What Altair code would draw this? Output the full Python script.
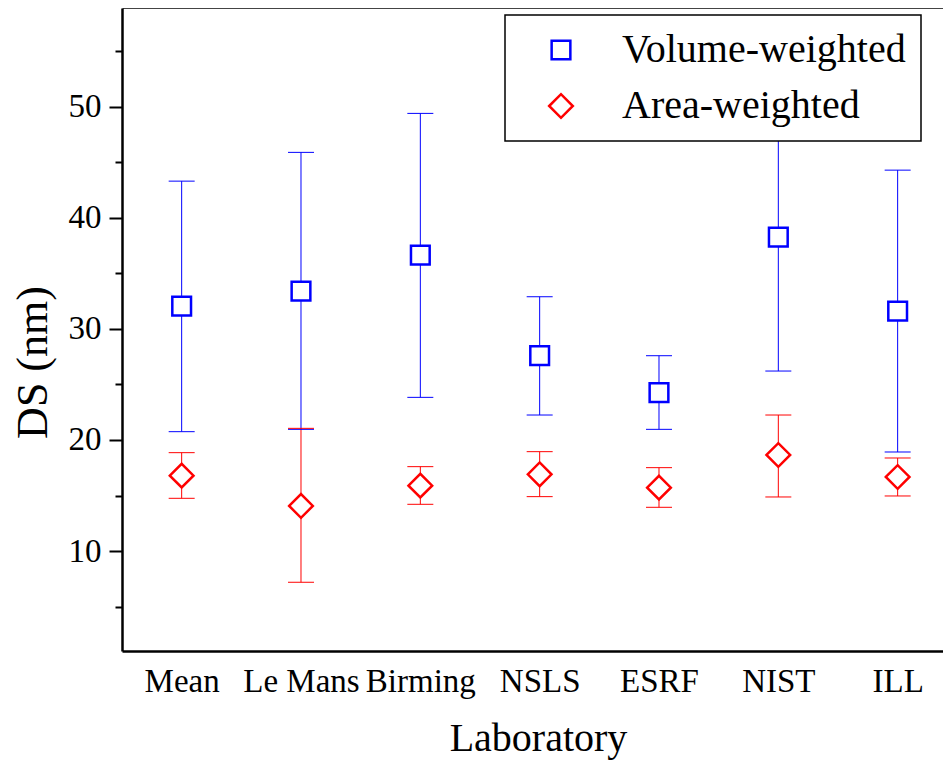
import altair as alt
import pandas as pd

labs = ["Mean", "Le Mans", "Birming", "NSLS", "ESRF", "NIST", "ILL"]
series = ["Volume-weighted", "Area-weighted"]
vol_mid = [32.06, 33.41, 36.65, 27.59, 24.26, 38.27, 31.61]
vol_lo = [20.75, 20.96, 23.84, 22.25, 20.96, 26.21, 18.92]
vol_hi = [43.31, 45.90, 49.41, 32.90, 27.59, 50.30, 44.30]
area_mid = [16.79, 14.06, 15.89, 16.91, 15.71, 18.65, 16.67]
area_lo = [14.75, 7.19, 14.21, 14.90, 13.94, 14.87, 14.96]
area_hi = [18.86, 21.05, 17.60, 18.95, 17.51, 22.25, 18.38]
y_major = [10, 20, 30, 40, 50]
y_minor = [5, 15, 25, 35, 45, 55]
COLORS = ["#0000ff", "#ff0000"]

rows = []
for k, (s, mids, los, his) in enumerate([(series[0], vol_mid, vol_lo, vol_hi),
                                         (series[1], area_mid, area_lo, area_hi)]):
    for i, lab in enumerate(labs):
        rows.append({"idx": i + 1, "lab": lab, "series": s, "hex": COLORS[k],
                     "mid": mids[i], "lo": los[i], "hi": his[i]})
df = pd.DataFrame(rows)

FONT = "Liberation Serif"
xscale = alt.Scale(domain=[0.5, 7.38], nice=False, zero=False)
yscale = alt.Scale(domain=[1.0, 58.9], nice=False, zero=False)
label_expr = "[" + ",".join("'%s'" % l for l in labs) + "][datum.value - 1]"

x_main = alt.Axis(values=list(range(1, 8)), ticks=False, labelExpr=label_expr,
                  labelFontSize=33, labelFont=FONT, labelPadding=14,
                  labelOverlap=False, labelFlush=False, labelBound=False,
                  domainWidth=2.5, domainColor="black", grid=False,
                  title="Laboratory", titleFont=FONT, titleFontSize=40,
                  titleFontWeight="normal", titleX=416, titleY=99,
                  titleBaseline="alphabetic", titleAlign="center", orient="bottom")
y_main = alt.Axis(values=y_major, tickSize=13, tickWidth=2, tickColor="black",
                  labelFontSize=33, labelFont=FONT, labelPadding=8,
                  labelOverlap=False, labelFlush=False,
                  domainWidth=2.5, domainColor="black", grid=False,
                  title="DS (nm)", titleFont=FONT, titleFontSize=44,
                  titleFontWeight="normal", titleAngle=270, titleX=-76, titleY=354,
                  titleBaseline="alphabetic", titleAlign="center", orient="left")
y_minor_ax = alt.Axis(values=y_minor, tickSize=7, tickWidth=2, tickColor="black",
                      labels=False, domain=False, grid=False, title=None, orient="left")
x_top = alt.Axis(orient="top", ticks=False, labels=False, domain=True,
                 domainColor="#444444", domainWidth=1, grid=False, title=None)

base = alt.Chart(df)

rules = base.mark_rule(strokeWidth=1).encode(
    x=alt.X("idx:Q", scale=xscale, axis=x_main),
    y=alt.Y("lo:Q", scale=yscale, axis=y_main),
    y2="hi:Q",
    stroke=alt.Stroke("hex:N", scale=None),
)
caps_lo = base.mark_tick(orient="horizontal", size=26, thickness=1, opacity=1).encode(
    x=alt.X("idx:Q", scale=xscale, axis=x_top),
    y=alt.Y("lo:Q", scale=yscale, axis=y_minor_ax),
    fill=alt.Fill("hex:N", scale=None),
)
caps_hi = base.mark_tick(orient="horizontal", size=26, thickness=1, opacity=1).encode(
    x=alt.X("idx:Q", scale=xscale, axis=None),
    y=alt.Y("hi:Q", scale=yscale, axis=None),
    fill=alt.Fill("hex:N", scale=None),
)
legend = alt.Legend(orient="none", legendX=383, legendY=7, title=None,
                    labelFont=FONT, labelFontSize=40, labelColor="black", labelLimit=600,
                    padding=15, rowPadding=16, symbolOffset=21, labelOffset=41,
                    symbolStrokeWidth=2.5, strokeColor="black", fillColor="white",
                    labelExpr="datum.label + '\u00a0\u00a0\u00a0\u00a0\u00a0'")
points = base.mark_point(filled=False, fill="white", strokeWidth=2.5, opacity=1).encode(
    x=alt.X("idx:Q", scale=xscale, axis=None),
    y=alt.Y("mid:Q", scale=yscale, axis=None),
    color=alt.Color("series:N", scale=alt.Scale(domain=series, range=COLORS), legend=legend),
    shape=alt.Shape("series:N", scale=alt.Scale(domain=series, range=["square", "diamond"]), legend=legend),
    size=alt.Size("series:N", scale=alt.Scale(domain=series, range=[350, 560]), legend=legend),
)

chart = alt.layer(rules, caps_lo, caps_hi, points).resolve_axis(
    x="independent", y="independent"
).properties(
    width=821, height=643,
    autosize=alt.AutoSizeParams(type="none"),
    padding={"left": 122, "top": 8, "right": 0, "bottom": 110},
    background="white",
).configure(font=FONT).configure_view(stroke="transparent").configure_legend(strokeWidth=1.5)

chart.save("out.html", embed_options={"renderer": "svg", "actions": False})
